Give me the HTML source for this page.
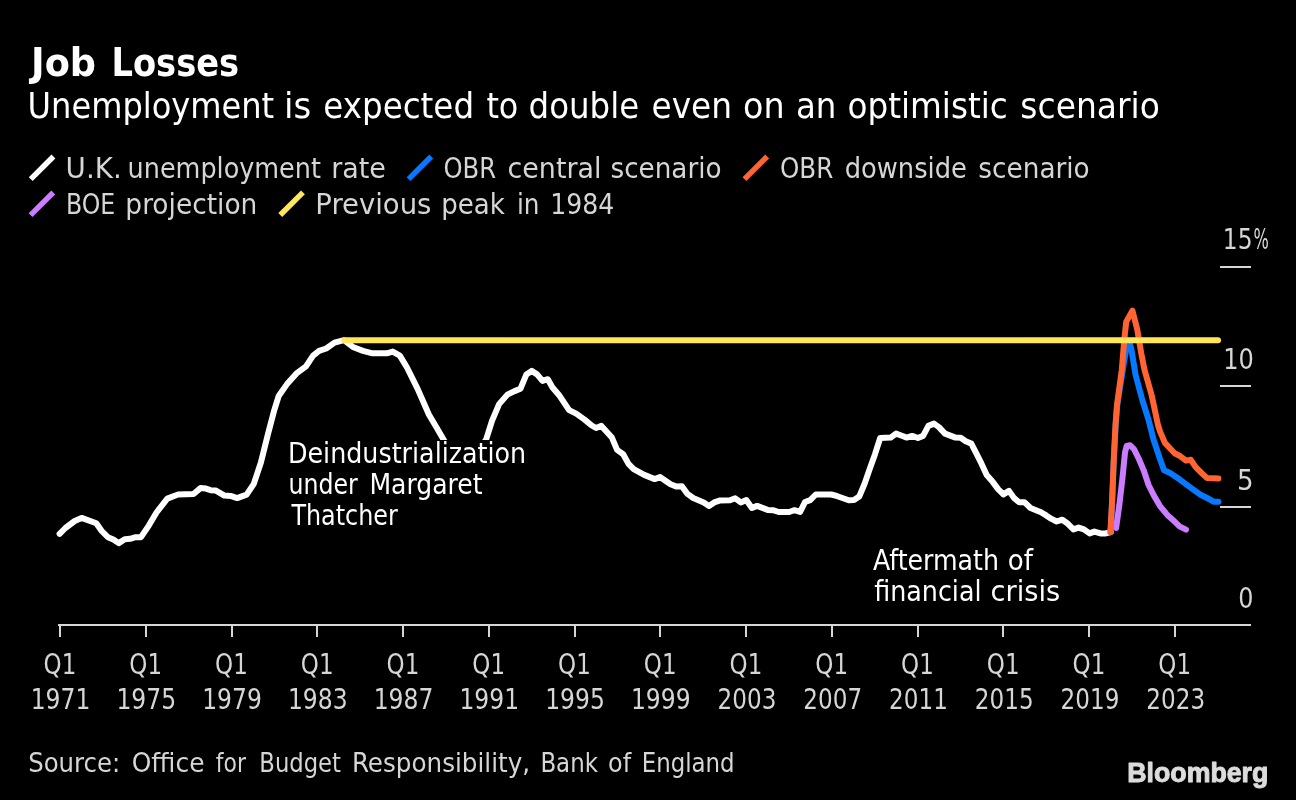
<!DOCTYPE html>
<html lang="en"><head><meta charset="utf-8"><title>Job Losses</title>
<style>
html,body{margin:0;padding:0;background:#000;}
body{width:1296px;height:800px;overflow:hidden;}
svg{display:block;}
text{white-space:pre;}
</style></head><body>
<svg width="1296" height="800" viewBox="0 0 1296 800">
<rect width="1296" height="800" fill="#000"/>
<g stroke="#d6d6d6" stroke-width="2" fill="none" shape-rendering="crispEdges">
<line x1="58" y1="625" x2="1251" y2="625"/>
<line x1="60.00" y1="625" x2="60.00" y2="637"/><line x1="145.75" y1="625" x2="145.75" y2="637"/><line x1="231.50" y1="625" x2="231.50" y2="637"/><line x1="317.25" y1="625" x2="317.25" y2="637"/><line x1="403.00" y1="625" x2="403.00" y2="637"/><line x1="488.75" y1="625" x2="488.75" y2="637"/><line x1="574.50" y1="625" x2="574.50" y2="637"/><line x1="660.25" y1="625" x2="660.25" y2="637"/><line x1="746.00" y1="625" x2="746.00" y2="637"/><line x1="831.75" y1="625" x2="831.75" y2="637"/><line x1="917.50" y1="625" x2="917.50" y2="637"/><line x1="1003.25" y1="625" x2="1003.25" y2="637"/><line x1="1089.00" y1="625" x2="1089.00" y2="637"/><line x1="1174.75" y1="625" x2="1174.75" y2="637"/>
<line x1="1220" y1="267" x2="1251" y2="267"/>
<line x1="1220" y1="386" x2="1251" y2="386"/>
<line x1="1220" y1="507" x2="1251" y2="507"/>
</g>
<g fill="none" stroke-width="6" stroke-linejoin="round" stroke-linecap="round">
<path stroke="#ffffff" d="M59.6,533.8 L65.4,528.0 L74.7,521.0 L81.6,517.9 L96.3,523.3 L101.7,531.0 L107.9,537.2 L113.3,539.5 L118.7,543.1 L124.8,539.2 L130.2,538.8 L135.6,537.2 L141.0,537.2 L148.8,525.6 L156.5,512.5 L167.3,498.6 L178.1,494.5 L193.5,494.0 L200.5,488.1 L205.9,488.6 L210.5,490.2 L215.9,490.6 L224.4,495.6 L230.6,495.9 L237.1,498.1 L246.6,494.6 L253.8,483.9 L260.9,462.5 L268.0,434.0 L273.9,411.4 L278.7,396.0 L287.0,384.1 L296.5,373.4 L306.0,366.3 L313.1,355.6 L319.1,350.9 L326.2,348.5 L334.5,342.6 L344.0,340.2 L353.5,347.3 L363.0,350.9 L372.5,353.3 L386.8,353.3 L392.7,351.6 L399.8,355.6 L407.0,367.5 L417.6,388.9 L429.0,414.8 L436.1,426.7 L444.4,441.0 L455.0,455.0 L465.0,460.0 L475.0,455.0 L486.0,439.8 L492.0,420.8 L499.1,404.1 L507.4,394.6 L514.5,391.1 L520.5,388.7 L526.4,374.4 L531.6,370.9 L537.1,374.4 L542.5,380.9 L547.8,379.2 L552.5,387.5 L559.6,395.8 L569.1,410.1 L576.2,413.6 L584.6,419.6 L591.7,425.5 L596.1,428.0 L601.4,425.9 L611.9,437.6 L617.1,449.9 L623.2,454.2 L628.5,463.9 L633.7,469.1 L644.2,474.9 L654.7,479.1 L660.0,477.0 L670.5,484.3 L676.6,486.6 L681.9,486.3 L687.1,493.6 L693.2,498.0 L703.7,502.4 L709.0,505.9 L714.2,502.4 L719.5,500.6 L730.0,500.3 L735.2,498.3 L740.8,502.4 L746.3,500.1 L751.9,508.0 L757.1,505.9 L767.6,509.9 L772.9,510.2 L778.7,512.0 L789.2,512.0 L794.5,510.2 L800.1,512.0 L805.0,502.0 L810.2,500.1 L815.8,494.5 L831.2,494.5 L837.4,496.2 L848.7,500.3 L854.0,500.1 L859.2,496.6 L864.5,484.0 L869.7,469.1 L875.0,454.2 L880.2,438.0 L890.7,437.6 L896.0,433.6 L901.2,435.5 L906.8,437.6 L912.1,435.9 L917.9,438.0 L923.1,435.9 L928.4,425.9 L934.0,423.6 L938.9,427.1 L945.0,433.6 L955.5,437.6 L960.7,437.8 L965.7,441.3 L971.3,443.6 L976.2,453.2 L981.5,463.7 L986.7,475.1 L992.9,482.1 L998.1,489.1 L1003.4,494.4 L1009.0,490.9 L1013.9,497.9 L1019.1,502.2 L1024.4,502.2 L1030.5,508.0 L1041.0,512.2 L1046.2,515.4 L1051.5,518.9 L1056.7,521.5 L1062.3,519.7 L1067.2,523.2 L1073.4,529.4 L1078.6,527.6 L1083.9,529.4 L1089.6,533.4 L1094.4,531.6 L1100.5,533.4 L1105.7,533.4 L1111.0,532.0"/>
</g>
<rect x="284" y="440" width="246" height="96" fill="#000"/>
<rect x="868" y="546" width="196" height="64" fill="#000"/>
<g fill="none" stroke-width="6" stroke-linejoin="round" stroke-linecap="round">
<path stroke="#0878ff" d="M1110.6,532.0 L1112.2,501.0 L1113.8,460.6 L1115.7,425.0 L1117.3,405.0 L1122.8,370.0 L1126.5,347.0 L1129.5,342.5 L1131.5,350.0 L1135.6,375.0 L1142.3,400.0 L1148.6,420.0 L1153.5,439.5 L1160.0,459.0 L1164.0,470.3 L1169.7,472.8 L1179.5,479.3 L1189.2,486.6 L1200.6,494.7 L1208.7,498.8 L1213.6,501.7 L1218.4,501.7"/>
<path stroke="#cb7dff" d="M1116.1,528.0 L1119.4,504.5 L1122.6,476.8 L1125.0,452.5 L1126.7,446.0 L1129.9,445.2 L1134.0,449.2 L1138.9,459.0 L1143.7,470.3 L1148.6,485.0 L1154.3,496.3 L1160.0,506.1 L1168.1,515.8 L1174.6,521.5 L1179.5,526.4 L1186.0,529.6"/>
<path stroke="#ff6432" d="M1110.4,532.1 L1112.1,501.2 L1113.7,460.6 L1115.5,425.0 L1116.9,405.6 L1121.8,369.8 L1124.2,340.6 L1126.2,321.9 L1132.4,310.6 L1137.2,329.2 L1141.3,353.6 L1144.5,369.8 L1151.8,395.8 L1158.0,425.0 L1160.0,431.4 L1164.8,442.7 L1174.6,453.3 L1179.5,455.7 L1186.0,460.6 L1190.8,459.8 L1195.7,467.1 L1202.2,473.6 L1207.1,478.1 L1218.4,478.5"/>
<path stroke="#ffe65a" d="M344.5,340.25 L1218,340.25"/>
</g>
<g fill="none" stroke-width="5.5">
<line stroke="#ffffff" x1="30.75" y1="179.10" x2="53.45" y2="156.50"/>
<line stroke="#0878ff" x1="408.55" y1="179.10" x2="431.25" y2="156.50"/>
<line stroke="#ff6432" x1="744.45" y1="179.10" x2="767.15" y2="156.50"/>
<line stroke="#cb7dff" x1="30.55" y1="215.10" x2="53.25" y2="192.50"/>
<line stroke="#ffe65a" x1="280.25" y1="215.00" x2="302.95" y2="192.40"/>
</g>
<g>
<text x="287.95" y="462.70" font-size="27.5" fill="#fff" textLength="238.28" lengthAdjust="spacingAndGlyphs" font-family="'DejaVu Sans Condensed','DejaVu Sans','Liberation Sans',sans-serif">Deindustrialization</text>
<text y="494.00" font-size="27.5" fill="#fff" font-family="'DejaVu Sans Condensed','DejaVu Sans','Liberation Sans',sans-serif"><tspan x="288.59" textLength="69.21" lengthAdjust="spacingAndGlyphs">under</tspan> <tspan x="369.47" textLength="113.02" lengthAdjust="spacingAndGlyphs">Margaret</tspan></text>
<text x="291.46" y="525.20" font-size="27.5" fill="#fff" textLength="106.23" lengthAdjust="spacingAndGlyphs" font-family="'DejaVu Sans Condensed','DejaVu Sans','Liberation Sans',sans-serif">Thatcher</text>
<text y="569.70" font-size="27.5" fill="#fff" font-family="'DejaVu Sans Condensed','DejaVu Sans','Liberation Sans',sans-serif"><tspan x="873.00" textLength="125.92" lengthAdjust="spacingAndGlyphs">Aftermath</tspan> <tspan x="1007.85" textLength="25.09" lengthAdjust="spacingAndGlyphs">of</tspan></text>
<text y="600.70" font-size="27.5" fill="#fff" font-family="'DejaVu Sans Condensed','DejaVu Sans','Liberation Sans',sans-serif"><tspan x="874.20" textLength="107.32" lengthAdjust="spacingAndGlyphs">financial</tspan> <tspan x="990.60" textLength="69.68" lengthAdjust="spacingAndGlyphs">crisis</tspan></text>
</g>
<g>
<text y="76.00" font-size="38.4" font-weight="bold" fill="#fff" font-family="'DejaVu Sans Condensed','DejaVu Sans','Liberation Sans',sans-serif"><tspan x="31.12" textLength="64.95" lengthAdjust="spacingAndGlyphs">Job</tspan> <tspan x="111.47" textLength="127.65" lengthAdjust="spacingAndGlyphs">Losses</tspan></text>
<text y="118.00" font-size="35.8" fill="#fff" font-family="'DejaVu Sans Condensed','DejaVu Sans','Liberation Sans',sans-serif"><tspan x="27.61" textLength="246.51" lengthAdjust="spacingAndGlyphs">Unemployment</tspan> <tspan x="284.13" textLength="27.20" lengthAdjust="spacingAndGlyphs">is</tspan> <tspan x="323.39" textLength="150.69" lengthAdjust="spacingAndGlyphs">expected</tspan> <tspan x="486.40" textLength="31.98" lengthAdjust="spacingAndGlyphs">to</tspan> <tspan x="528.59" textLength="110.53" lengthAdjust="spacingAndGlyphs">double</tspan> <tspan x="651.48" textLength="80.58" lengthAdjust="spacingAndGlyphs">even</tspan> <tspan x="743.06" textLength="41.54" lengthAdjust="spacingAndGlyphs">on</tspan> <tspan x="795.99" textLength="40.44" lengthAdjust="spacingAndGlyphs">an</tspan> <tspan x="847.49" textLength="160.24" lengthAdjust="spacingAndGlyphs">optimistic</tspan> <tspan x="1020.38" textLength="139.46" lengthAdjust="spacingAndGlyphs">scenario</tspan></text>
<text y="177.80" font-size="28.5" fill="#d6d6d6" font-family="'DejaVu Sans Condensed','DejaVu Sans','Liberation Sans',sans-serif"><tspan x="65.64" textLength="56.08" lengthAdjust="spacingAndGlyphs">U.K.</tspan> <tspan x="127.61" textLength="193.33" lengthAdjust="spacingAndGlyphs">unemployment</tspan> <tspan x="331.20" textLength="54.72" lengthAdjust="spacingAndGlyphs">rate</tspan></text>
<text y="177.80" font-size="28.5" fill="#d6d6d6" font-family="'DejaVu Sans Condensed','DejaVu Sans','Liberation Sans',sans-serif"><tspan x="443.45" textLength="52.57" lengthAdjust="spacingAndGlyphs">OBR</tspan> <tspan x="507.55" textLength="93.88" lengthAdjust="spacingAndGlyphs">central</tspan> <tspan x="610.48" textLength="111.12" lengthAdjust="spacingAndGlyphs">scenario</tspan></text>
<text y="177.80" font-size="28.5" fill="#d6d6d6" font-family="'DejaVu Sans Condensed','DejaVu Sans','Liberation Sans',sans-serif"><tspan x="779.94" textLength="53.28" lengthAdjust="spacingAndGlyphs">OBR</tspan> <tspan x="844.70" textLength="122.19" lengthAdjust="spacingAndGlyphs">downside</tspan> <tspan x="978.37" textLength="111.33" lengthAdjust="spacingAndGlyphs">scenario</tspan></text>
<text y="213.90" font-size="28.5" fill="#d6d6d6" font-family="'DejaVu Sans Condensed','DejaVu Sans','Liberation Sans',sans-serif"><tspan x="65.96" textLength="49.25" lengthAdjust="spacingAndGlyphs">BOE</tspan> <tspan x="125.34" textLength="132.06" lengthAdjust="spacingAndGlyphs">projection</tspan></text>
<text y="213.90" font-size="28.5" fill="#d6d6d6" font-family="'DejaVu Sans Condensed','DejaVu Sans','Liberation Sans',sans-serif"><tspan x="315.36" textLength="116.03" lengthAdjust="spacingAndGlyphs">Previous</tspan> <tspan x="441.27" textLength="63.58" lengthAdjust="spacingAndGlyphs">peak</tspan> <tspan x="516.97" textLength="22.54" lengthAdjust="spacingAndGlyphs">in</tspan> <tspan x="550.24" textLength="64.05" lengthAdjust="spacingAndGlyphs">1984</tspan></text>
<text y="249.00" font-size="28.8" fill="#d6d6d6" font-family="'DejaVu Sans Condensed','DejaVu Sans','Liberation Sans',sans-serif"><tspan x="1222.80" textLength="29.74" lengthAdjust="spacingAndGlyphs">15</tspan> <tspan x="1253.58" textLength="15.31" lengthAdjust="spacingAndGlyphs">%</tspan></text>
<text x="1223.14" y="368.70" font-size="28.8" fill="#d6d6d6" textLength="30.63" lengthAdjust="spacingAndGlyphs" font-family="'DejaVu Sans Condensed','DejaVu Sans','Liberation Sans',sans-serif">10</text>
<text x="1236.88" y="490.00" font-size="28.8" fill="#d6d6d6" textLength="16.61" lengthAdjust="spacingAndGlyphs" font-family="'DejaVu Sans Condensed','DejaVu Sans','Liberation Sans',sans-serif">5</text>
<text x="1238.18" y="607.60" font-size="28.8" fill="#d6d6d6" textLength="15.18" lengthAdjust="spacingAndGlyphs" font-family="'DejaVu Sans Condensed','DejaVu Sans','Liberation Sans',sans-serif">0</text>
<text y="771.80" font-size="27" fill="#d6d6d6" font-family="'DejaVu Sans Condensed','DejaVu Sans','Liberation Sans',sans-serif"><tspan x="28.20" textLength="92.00" lengthAdjust="spacingAndGlyphs">Source:</tspan> <tspan x="131.77" textLength="72.70" lengthAdjust="spacingAndGlyphs">Office</tspan> <tspan x="215.80" textLength="30.08" lengthAdjust="spacingAndGlyphs">for</tspan> <tspan x="259.33" textLength="81.65" lengthAdjust="spacingAndGlyphs">Budget</tspan> <tspan x="351.97" textLength="178.06" lengthAdjust="spacingAndGlyphs">Responsibility,</tspan> <tspan x="540.41" textLength="57.55" lengthAdjust="spacingAndGlyphs">Bank</tspan> <tspan x="608.02" textLength="23.05" lengthAdjust="spacingAndGlyphs">of</tspan> <tspan x="641.72" textLength="92.82" lengthAdjust="spacingAndGlyphs">England</tspan></text>
<text x="1127.24" y="782.00" font-size="27.8" font-weight="bold" stroke="#dcdcdc" stroke-width="1" stroke-linejoin="round" fill="#dcdcdc" textLength="141.10" lengthAdjust="spacingAndGlyphs" font-family="'Liberation Sans',sans-serif">Bloomberg</text>
<text x="43.61" y="674.00" font-size="28.8" fill="#d6d6d6" textLength="32.70" lengthAdjust="spacingAndGlyphs" font-family="'DejaVu Sans Condensed','DejaVu Sans','Liberation Sans',sans-serif">Q1</text>
<text x="30.69" y="709.00" font-size="28.8" fill="#d6d6d6" textLength="59.65" lengthAdjust="spacingAndGlyphs" font-family="'DejaVu Sans Condensed','DejaVu Sans','Liberation Sans',sans-serif">1971</text>
<text x="129.36" y="674.00" font-size="28.8" fill="#d6d6d6" textLength="32.70" lengthAdjust="spacingAndGlyphs" font-family="'DejaVu Sans Condensed','DejaVu Sans','Liberation Sans',sans-serif">Q1</text>
<text x="116.44" y="709.00" font-size="28.8" fill="#d6d6d6" textLength="59.65" lengthAdjust="spacingAndGlyphs" font-family="'DejaVu Sans Condensed','DejaVu Sans','Liberation Sans',sans-serif">1975</text>
<text x="215.11" y="674.00" font-size="28.8" fill="#d6d6d6" textLength="32.70" lengthAdjust="spacingAndGlyphs" font-family="'DejaVu Sans Condensed','DejaVu Sans','Liberation Sans',sans-serif">Q1</text>
<text x="202.19" y="709.00" font-size="28.8" fill="#d6d6d6" textLength="59.65" lengthAdjust="spacingAndGlyphs" font-family="'DejaVu Sans Condensed','DejaVu Sans','Liberation Sans',sans-serif">1979</text>
<text x="300.86" y="674.00" font-size="28.8" fill="#d6d6d6" textLength="32.70" lengthAdjust="spacingAndGlyphs" font-family="'DejaVu Sans Condensed','DejaVu Sans','Liberation Sans',sans-serif">Q1</text>
<text x="287.94" y="709.00" font-size="28.8" fill="#d6d6d6" textLength="59.65" lengthAdjust="spacingAndGlyphs" font-family="'DejaVu Sans Condensed','DejaVu Sans','Liberation Sans',sans-serif">1983</text>
<text x="386.61" y="674.00" font-size="28.8" fill="#d6d6d6" textLength="32.70" lengthAdjust="spacingAndGlyphs" font-family="'DejaVu Sans Condensed','DejaVu Sans','Liberation Sans',sans-serif">Q1</text>
<text x="373.69" y="709.00" font-size="28.8" fill="#d6d6d6" textLength="59.65" lengthAdjust="spacingAndGlyphs" font-family="'DejaVu Sans Condensed','DejaVu Sans','Liberation Sans',sans-serif">1987</text>
<text x="472.36" y="674.00" font-size="28.8" fill="#d6d6d6" textLength="32.70" lengthAdjust="spacingAndGlyphs" font-family="'DejaVu Sans Condensed','DejaVu Sans','Liberation Sans',sans-serif">Q1</text>
<text x="459.44" y="709.00" font-size="28.8" fill="#d6d6d6" textLength="59.65" lengthAdjust="spacingAndGlyphs" font-family="'DejaVu Sans Condensed','DejaVu Sans','Liberation Sans',sans-serif">1991</text>
<text x="558.11" y="674.00" font-size="28.8" fill="#d6d6d6" textLength="32.70" lengthAdjust="spacingAndGlyphs" font-family="'DejaVu Sans Condensed','DejaVu Sans','Liberation Sans',sans-serif">Q1</text>
<text x="545.19" y="709.00" font-size="28.8" fill="#d6d6d6" textLength="59.65" lengthAdjust="spacingAndGlyphs" font-family="'DejaVu Sans Condensed','DejaVu Sans','Liberation Sans',sans-serif">1995</text>
<text x="643.86" y="674.00" font-size="28.8" fill="#d6d6d6" textLength="32.70" lengthAdjust="spacingAndGlyphs" font-family="'DejaVu Sans Condensed','DejaVu Sans','Liberation Sans',sans-serif">Q1</text>
<text x="630.94" y="709.00" font-size="28.8" fill="#d6d6d6" textLength="59.65" lengthAdjust="spacingAndGlyphs" font-family="'DejaVu Sans Condensed','DejaVu Sans','Liberation Sans',sans-serif">1999</text>
<text x="729.61" y="674.00" font-size="28.8" fill="#d6d6d6" textLength="32.70" lengthAdjust="spacingAndGlyphs" font-family="'DejaVu Sans Condensed','DejaVu Sans','Liberation Sans',sans-serif">Q1</text>
<text x="717.61" y="709.00" font-size="28.8" fill="#d6d6d6" textLength="58.71" lengthAdjust="spacingAndGlyphs" font-family="'DejaVu Sans Condensed','DejaVu Sans','Liberation Sans',sans-serif">2003</text>
<text x="815.36" y="674.00" font-size="28.8" fill="#d6d6d6" textLength="32.70" lengthAdjust="spacingAndGlyphs" font-family="'DejaVu Sans Condensed','DejaVu Sans','Liberation Sans',sans-serif">Q1</text>
<text x="803.36" y="709.00" font-size="28.8" fill="#d6d6d6" textLength="58.71" lengthAdjust="spacingAndGlyphs" font-family="'DejaVu Sans Condensed','DejaVu Sans','Liberation Sans',sans-serif">2007</text>
<text x="901.11" y="674.00" font-size="28.8" fill="#d6d6d6" textLength="32.70" lengthAdjust="spacingAndGlyphs" font-family="'DejaVu Sans Condensed','DejaVu Sans','Liberation Sans',sans-serif">Q1</text>
<text x="889.11" y="709.00" font-size="28.8" fill="#d6d6d6" textLength="58.71" lengthAdjust="spacingAndGlyphs" font-family="'DejaVu Sans Condensed','DejaVu Sans','Liberation Sans',sans-serif">2011</text>
<text x="986.86" y="674.00" font-size="28.8" fill="#d6d6d6" textLength="32.70" lengthAdjust="spacingAndGlyphs" font-family="'DejaVu Sans Condensed','DejaVu Sans','Liberation Sans',sans-serif">Q1</text>
<text x="974.86" y="709.00" font-size="28.8" fill="#d6d6d6" textLength="58.71" lengthAdjust="spacingAndGlyphs" font-family="'DejaVu Sans Condensed','DejaVu Sans','Liberation Sans',sans-serif">2015</text>
<text x="1072.61" y="674.00" font-size="28.8" fill="#d6d6d6" textLength="32.70" lengthAdjust="spacingAndGlyphs" font-family="'DejaVu Sans Condensed','DejaVu Sans','Liberation Sans',sans-serif">Q1</text>
<text x="1060.61" y="709.00" font-size="28.8" fill="#d6d6d6" textLength="58.71" lengthAdjust="spacingAndGlyphs" font-family="'DejaVu Sans Condensed','DejaVu Sans','Liberation Sans',sans-serif">2019</text>
<text x="1158.36" y="674.00" font-size="28.8" fill="#d6d6d6" textLength="32.70" lengthAdjust="spacingAndGlyphs" font-family="'DejaVu Sans Condensed','DejaVu Sans','Liberation Sans',sans-serif">Q1</text>
<text x="1146.36" y="709.00" font-size="28.8" fill="#d6d6d6" textLength="58.71" lengthAdjust="spacingAndGlyphs" font-family="'DejaVu Sans Condensed','DejaVu Sans','Liberation Sans',sans-serif">2023</text>
</g>
</svg>
</body></html>
